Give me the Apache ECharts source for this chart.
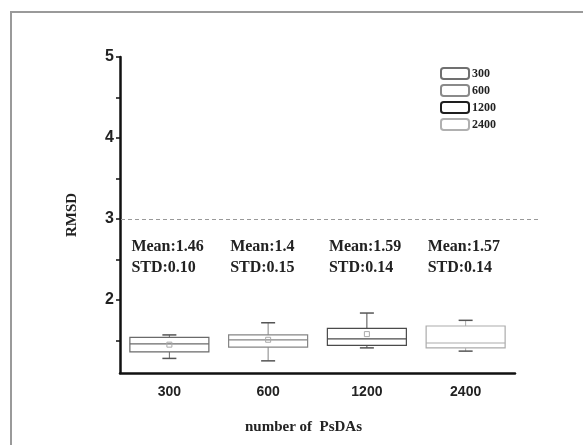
<!DOCTYPE html>
<html>
<head>
<meta charset="utf-8">
<script src="https://cdn.jsdelivr.net/npm/echarts@6/dist/echarts.min.js"></script>
<style>
  html, body { margin: 0; padding: 0; background: #fff; }
  #chart { width: 583px; height: 445px; }
</style>
</head>
<body>
<div id="chart"></div>
<script>
const categories = ['300', '600', '1200', '2400'];
const lowWhisker = [1.28, 1.25, 1.41, 1.37];
const q1 = [1.36, 1.42, 1.44, 1.41];
const median = [1.46, 1.51, 1.52, 1.47];
const q3 = [1.54, 1.57, 1.65, 1.68];
const highWhisker = [1.57, 1.72, 1.84, 1.75];
const meanMarks = [1.45, 1.51, 1.58, null];
const meanText = ['1.46', '1.4', '1.59', '1.57'];
const stdText = ['0.10', '0.15', '0.14', '0.14'];
const yLabels = [2, 3, 4, 5];
const yTicks = [1.5, 2, 2.5, 3, 3.5, 4, 4.5, 5];
const refLine = 3;

const boxColors = ['#6a6a6a', '#858585', '#4a4a4a', '#ababab'];
const legendColors = ['#707070', '#8a8a8a', '#1e1e1e', '#b0b0b0'];

document.addEventListener('DOMContentLoaded', function () {
    const chart = echarts.init(document.getElementById('chart'));

    function renderBox(params, api) {
        const idx = api.value(0);
        const cx = api.coord([idx, 0])[0];
        const band = api.size([1, 0])[0];
        const w = band * 0.8;
        const yLow = api.coord([idx, api.value(1)])[1];
        const yQ1 = api.coord([idx, api.value(2)])[1];
        const yMed = api.coord([idx, api.value(3)])[1];
        const yQ3 = api.coord([idx, api.value(4)])[1];
        const yHigh = api.coord([idx, api.value(5)])[1];
        const color = boxColors[idx];
        const capW = 7;
        const children = [
            { type: 'line', shape: { x1: cx, y1: yHigh, x2: cx, y2: yQ3 }, style: { stroke: color, lineWidth: 1 } },
            { type: 'line', shape: { x1: cx, y1: yQ1, x2: cx, y2: yLow }, style: { stroke: color, lineWidth: 1 } },
            { type: 'line', shape: { x1: cx - capW, y1: yHigh, x2: cx + capW, y2: yHigh }, style: { stroke: '#555', lineWidth: 1.5 } },
            { type: 'line', shape: { x1: cx - capW, y1: yLow, x2: cx + capW, y2: yLow }, style: { stroke: '#555', lineWidth: 1.5 } },
            { type: 'rect', shape: { x: cx - w / 2, y: yQ3, width: w, height: yQ1 - yQ3 }, style: { fill: '#fff', stroke: color, lineWidth: 1.2 } },
            { type: 'line', shape: { x1: cx - w / 2, y1: yMed, x2: cx + w / 2, y2: yMed }, style: { stroke: color, lineWidth: 1.2 } }
        ];
        const m = meanMarks[idx];
        if (m != null) {
            const ym = api.coord([idx, m])[1];
            children.push({ type: 'rect', shape: { x: cx - 2.5, y: ym - 2.5, width: 5, height: 5 }, style: { fill: 'none', stroke: '#aaa', lineWidth: 1 } });
        }
        const ty = api.coord([idx, 2.53])[1];
        children.push({
            type: 'text',
            x: cx - 38,
            y: ty,
            style: {
                text: 'Mean:' + meanText[idx] + '\nSTD:' + stdText[idx],
                font: 'bold 16px "Liberation Serif"',
                fill: '#222',
                lineHeight: 21,
                align: 'left',
                verticalAlign: 'middle'
            }
        });
        return { type: 'group', children: children };
    }

    const series = categories.map(function (name, i) {
        const s = {
            name: name,
            type: 'custom',
            renderItem: renderBox,
            itemStyle: { color: '#fff', borderColor: legendColors[i] },
            encode: { x: 0, y: [1, 2, 3, 4, 5] },
            data: [[i, lowWhisker[i], q1[i], median[i], q3[i], highWhisker[i]]],
            z: 3
        };
        if (i === 0) {
            s.markLine = {
                silent: true,
                symbol: 'none',
                label: { show: false },
                lineStyle: { color: '#999', type: [4, 3], width: 1 },
                data: [[{ x: 121, yAxis: refLine }, { x: 540, yAxis: refLine }]]
            };
        }
        return s;
    });

    const option = {
        animation: false,
        backgroundColor: '#fff',
        graphic: [{
            type: 'rect',
            shape: { x: 11, y: 12, width: 620, height: 480 },
            style: { fill: 'none', stroke: '#9a9a9a', lineWidth: 2 },
            silent: true
        }],
        legend: {
            orient: 'vertical',
            left: 435,
            top: 62,
            itemWidth: 28,
            itemHeight: 11,
            itemGap: 4,
            icon: 'roundRect',
            textStyle: { fontFamily: 'Liberation Serif', fontWeight: 'bold', fontSize: 12, color: '#222', padding: [0, 0, 0, -2] },
            data: categories.map(function (name, i) {
                return { name: name, itemStyle: { color: '#fff', borderColor: legendColors[i], borderWidth: 2 } };
            })
        },
        grid: { left: 120, right: 68, top: 57, bottom: 72 },
        xAxis: {
            type: 'category',
            data: categories,
            boundaryGap: true,
            name: 'number of  PsDAs',
            nameLocation: 'middle',
            nameGap: 47,
            nameTextStyle: { fontFamily: 'Liberation Serif', fontWeight: 'bold', fontSize: 15, color: '#222', padding: [0, 28, 0, 0] },
            axisLine: { lineStyle: { color: '#111', width: 2.5 } },
            axisTick: { alignWithLabel: true, length: 5, lineStyle: { color: '#111', width: 2.5 } },
            axisLabel: { fontFamily: 'Liberation Sans', fontWeight: 'bold', fontSize: 14, color: '#222', margin: 12 },
            splitLine: { show: false }
        },
        yAxis: {
            type: 'value',
            min: 1.1,
            max: 5,
            name: 'RMSD',
            nameLocation: 'middle',
            nameRotate: 90,
            nameGap: 40,
            nameTextStyle: { fontFamily: 'Liberation Serif', fontWeight: 'bold', fontSize: 15, color: '#222' },
            axisLine: { show: true, lineStyle: { color: '#111', width: 2.5 } },
            axisTick: { show: true, length: 4, customValues: yTicks, lineStyle: { color: '#111', width: 1.5 } },
            axisLabel: { customValues: yLabels, fontFamily: 'Liberation Sans', fontWeight: 'bold', fontSize: 16, color: '#222', margin: 6 },
            splitLine: { show: false }
        },
        series: series
    };

    chart.setOption(option);

    window.addEventListener('resize', function () {
        chart.resize();
    });
});
</script>
</body>
</html>
